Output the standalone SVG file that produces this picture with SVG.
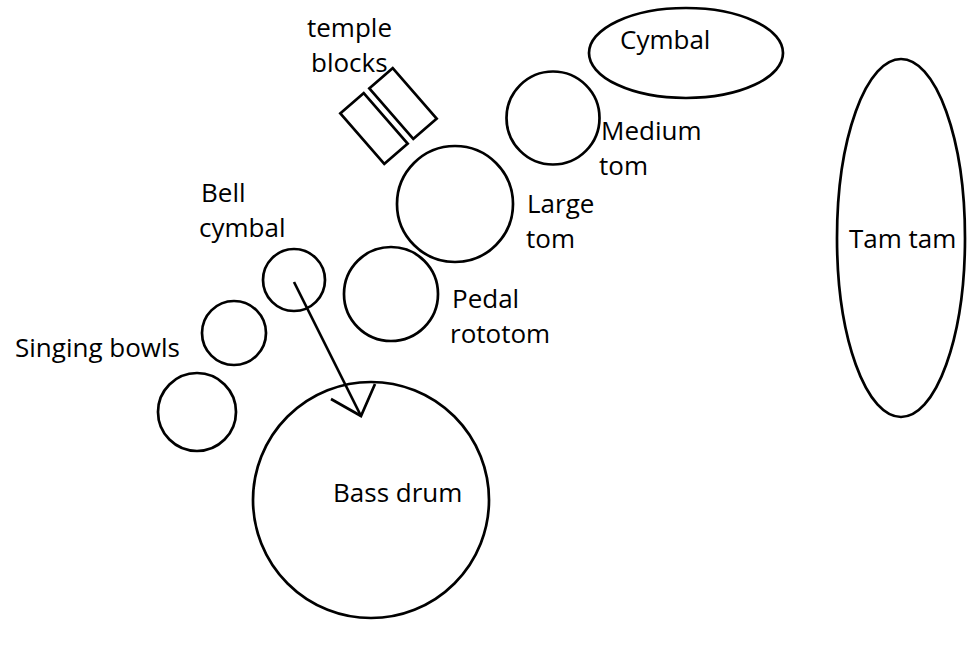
<svg xmlns="http://www.w3.org/2000/svg" width="976" height="649" viewBox="0 0 976 649">
  <style>
    .shape { fill: none; stroke: #000; stroke-width: 2.7; }
    .label { font-family: "Open Sans", "Liberation Sans", sans-serif; font-size: 26px; fill: #000; }
  </style>
  <rect width="976" height="649" fill="#fff"/>

  <!-- Percussion layout -->
  <g id="cymbal">
    <ellipse class="shape" cx="686" cy="53" rx="97" ry="45"/>
    <text class="label" x="620" y="49">Cymbal</text>
  </g>

  <g id="tam-tam">
    <ellipse class="shape" cx="901" cy="238" rx="64" ry="179"/>
    <text class="label" x="849" y="248">Tam tam</text>
  </g>

  <g id="temple-blocks">
    <rect class="shape" x="-33.5" y="-15.5" width="67" height="31" transform="translate(374 128.5) rotate(49)"/>
    <rect class="shape" x="-33.5" y="-15.5" width="67" height="31" transform="translate(403 103.5) rotate(49)"/>
    <text class="label" x="307" y="37">temple</text>
    <text class="label" x="311" y="72">blocks</text>
  </g>

  <g id="medium-tom">
    <circle class="shape" cx="553" cy="118" r="46.5"/>
    <text class="label" x="601" y="140">Medium</text>
    <text class="label" x="599" y="175">tom</text>
  </g>

  <g id="large-tom">
    <circle class="shape" cx="455" cy="204" r="58"/>
    <text class="label" x="527" y="213">Large</text>
    <text class="label" x="526" y="248">tom</text>
  </g>

  <g id="pedal-rototom">
    <circle class="shape" cx="391" cy="294" r="47"/>
    <text class="label" x="452" y="308">Pedal</text>
    <text class="label" x="450" y="343">rototom</text>
  </g>

  <g id="bell-cymbal">
    <circle class="shape" cx="294" cy="280" r="31"/>
    <text class="label" x="201" y="202">Bell</text>
    <text class="label" x="199" y="237">cymbal</text>
  </g>

  <g id="singing-bowls">
    <circle class="shape" cx="234" cy="333" r="32"/>
    <circle class="shape" cx="197" cy="412" r="39"/>
    <text class="label" x="15" y="357">Singing bowls</text>
  </g>

  <g id="bass-drum">
    <circle class="shape" cx="371" cy="500" r="118"/>
    <text class="label" x="333" y="502">Bass drum</text>
  </g>

  <!-- Connector: bell cymbal onto bass drum -->
  <g id="connectors">
    <line class="shape" x1="294" y1="282" x2="361" y2="416"/>
    <polyline class="shape" points="331,399 361,416 375,384"/>
  </g>
</svg>
